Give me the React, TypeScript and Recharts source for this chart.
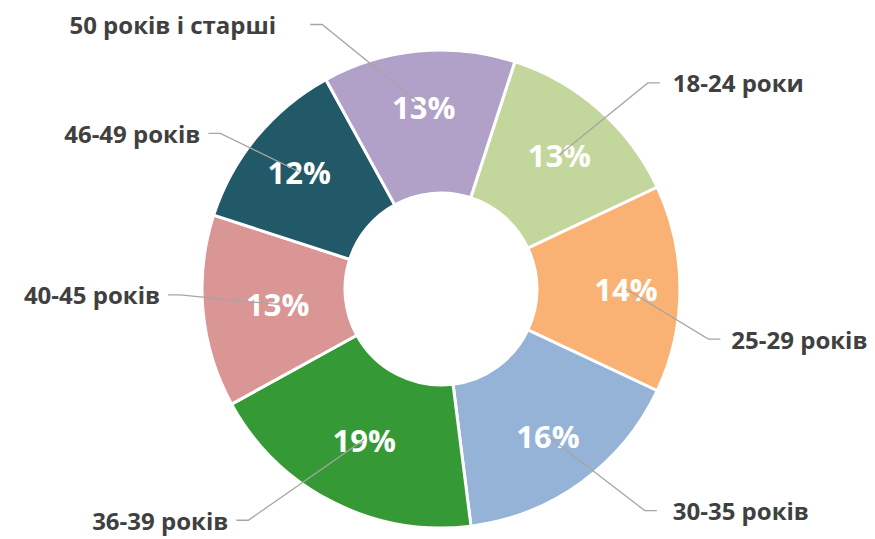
import { Cell, Pie, PieChart } from 'recharts';

const categories = [
  '18-24 роки',
  '25-29 років',
  '30-35 років',
  '36-39 років',
  '40-45 років',
  '46-49 років',
  '50 років і старші',
];
const shares = [13, 14, 16, 19, 13, 12, 13];
const colors = ['#C3D69B', '#F9B274', '#95B3D7', '#359A35', '#D99694', '#215968', '#B1A0C7'];

// hand-placed callouts, like the Excel original: elbow in clock degrees / px from centre
const labelLayout = [
  { angle: 45.1, radius: 292, pctRadius: 179, gap: 13 },
  { angle: 100.6, radius: 272, pctRadius: 185, gap: 11 },
  { angle: 137.4, radius: 301, pctRadius: 182, gap: 16 },
  { angle: 219.8, radius: 301, pctRadius: 169, gap: 8 },
  { angle: 268.7, radius: 261, pctRadius: 164, gap: 8 },
  { angle: 305.2, radius: 270, pctRadius: 184, gap: 8 },
  { angle: 335.8, radius: 290, pctRadius: 183, gap: 34 },
];

const rows = categories.map((name, i) => ({ name, value: shares[i] }));

const FONT = '"Open Sans", "Noto Sans", sans-serif';
const RAD = Math.PI / 180;

function clockPoint(cx: number, cy: number, r: number, deg: number) {
  return { x: cx + r * Math.sin(deg * RAD), y: cy - r * Math.cos(deg * RAD) };
}

function renderLabel(props: any) {
  const { cx, cy, midAngle, index, value, name } = props;
  const lay = labelLayout[index];
  const px = cx + lay.pctRadius * Math.cos(-midAngle * RAD);
  const py = cy + lay.pctRadius * Math.sin(-midAngle * RAD);
  const elbow = clockPoint(cx, cy, lay.radius, lay.angle);
  const right = lay.angle < 180;
  const endX = elbow.x + (right ? 12 : -12);
  const textX = endX + (right ? lay.gap : -lay.gap);

  return (
    <g key={`lbl-${index}`}>
      <text
        x={px}
        y={py}
        fill="#fff"
        textAnchor="middle"
        dominantBaseline="central"
        style={{ fontFamily: FONT, fontSize: 31, fontWeight: 700 }}
      >
        {`${value}%`}
      </text>
      <polyline
        points={`${px},${py} ${elbow.x},${elbow.y} ${endX},${elbow.y}`}
        fill="none"
        stroke="#A6A6A6"
        strokeWidth={1.3}
      />
      <text
        x={textX}
        y={elbow.y}
        fill="#404040"
        textAnchor={right ? 'start' : 'end'}
        dominantBaseline="central"
        style={{ fontFamily: FONT, fontSize: 24, fontWeight: 700 }}
      >
        {name}
      </text>
    </g>
  );
}

export default function App() {
  return (
    <div style={{ position: 'absolute', left: 0, top: 0, width: 875, height: 539, background: '#fff' }}>
      <PieChart width={875} height={539} margin={{ top: 0, right: 0, bottom: 0, left: 0 }}>
        <Pie
          data={rows}
          dataKey="value"
          nameKey="name"
          cx={441}
          cy={289}
          innerRadius={96}
          outerRadius={239}
          startAngle={72}
          endAngle={-288}
          stroke="#fff"
          strokeWidth={3}
          label={renderLabel}
          labelLine={false}
          isAnimationActive={false}
        >
          {rows.map((r, i) => (
            <Cell key={r.name} fill={colors[i]} />
          ))}
        </Pie>
      </PieChart>
    </div>
  );
}
